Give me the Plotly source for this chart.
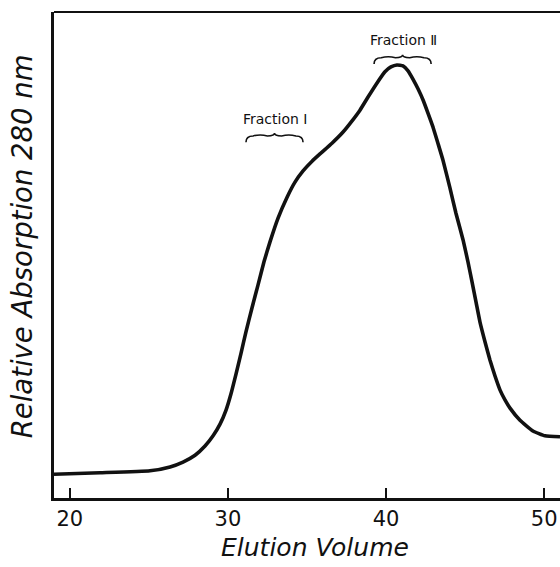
import plotly.graph_objects as go

# Elution profile
elution_volume = [19.0, 21.91, 25.07, 26.34, 27.16, 27.92, 28.55, 29.06, 29.50, 29.88,
                  30.19, 30.51, 30.83, 31.14, 31.52, 31.90, 32.28, 32.66, 33.17, 33.74,
                  34.24, 34.75, 35.32, 35.82, 36.58, 37.28, 37.85, 38.35, 38.86, 39.43,
                  39.93, 40.31, 40.69, 41.07, 41.39, 41.70, 42.02, 42.34, 42.65, 42.97,
                  43.28, 43.60, 44.04, 44.42, 44.87, 45.18, 45.44, 45.69, 45.94, 46.26,
                  46.57, 46.89, 47.21, 47.52, 47.84, 48.47, 49.29, 50.05, 51.0]
absorption = [0.049, 0.052, 0.056, 0.064, 0.074, 0.088, 0.107, 0.128, 0.152, 0.181,
              0.214, 0.255, 0.298, 0.342, 0.391, 0.438, 0.486, 0.527, 0.576, 0.619,
              0.650, 0.673, 0.693, 0.708, 0.730, 0.753, 0.776, 0.798, 0.825, 0.854,
              0.877, 0.887, 0.891, 0.889, 0.879, 0.862, 0.842, 0.819, 0.792, 0.763,
              0.730, 0.695, 0.638, 0.586, 0.531, 0.486, 0.444, 0.403, 0.362, 0.321,
              0.284, 0.251, 0.222, 0.202, 0.185, 0.160, 0.138, 0.128, 0.126]

tick_values = [20, 30, 40, 50]
tick_labels = ["20", "30", "40", "50"]

fraction_labels = ["Fraction \u2160", "Fraction \u2161"]
fraction_ranges = [(31.14, 34.75), (39.24, 42.85)]
fraction_brace_y = [0.745, 0.906]
fraction_label_y = [0.780, 0.942]

fig = go.Figure()
fig.add_trace(go.Scatter(x=elution_volume, y=absorption, mode="lines",
                         line=dict(color="#111111", width=3.6, shape="spline", smoothing=0.4),
                         hoverinfo="skip", showlegend=False))

shapes = []
annotations = []
for (x0, x1), yb, ly, lab in zip(fraction_ranges, fraction_brace_y, fraction_label_y, fraction_labels):
    xm = (x0 + x1) / 2
    d = 0.45
    yend = yb - 0.013
    ytip = yb + 0.006
    path = (f"M {x0},{yend} Q {x0},{yb} {x0+d},{yb} "
            f"Q {(x0+xm)/2},{yb+0.004} {xm-d},{yb} Q {xm},{yb} {xm},{ytip} "
            f"Q {xm},{yb} {xm+d},{yb} Q {(xm+x1)/2},{yb+0.004} {x1-d},{yb} "
            f"Q {x1},{yb} {x1},{yend}")
    shapes.append(dict(type="path", xref="x", yref="y", path=path,
                       line=dict(color="#111111", width=1.6)))
    annotations.append(dict(x=xm + 0.05, y=ly, xref="x", yref="y", text=lab, showarrow=False,
                            font=dict(family="DejaVu Sans", size=14, color="#111111")))

# top frame line
shapes.append(dict(type="line", xref="paper", yref="paper", x0=0, x1=1, y0=1, y1=1,
                   line=dict(color="#111111", width=2)))

annotations.append(dict(text="Elution Volume", xref="paper", yref="paper", x=0.515, y=-0.101,
                        showarrow=False, xanchor="center", yanchor="middle",
                        font=dict(family="DejaVu Sans", size=25, color="#111111", style="italic")))
annotations.append(dict(text="Relative Absorption 280 nm", xref="paper", yref="paper",
                        x=-0.063, y=0.518, textangle=-90, showarrow=False,
                        xanchor="center", yanchor="middle",
                        font=dict(family="DejaVu Sans", size=27.5, color="#111111", style="italic")))

fig.update_layout(
    width=560, height=567,
    margin=dict(l=54, r=0, t=12, b=69),
    paper_bgcolor="white", plot_bgcolor="white",
    shapes=shapes, annotations=annotations,
    xaxis=dict(range=[19, 51], tickvals=tick_values, ticktext=tick_labels,
               ticks="inside", ticklen=10, tickwidth=2, tickcolor="#111111",
               showline=True, linecolor="#111111", linewidth=2.5,
               showgrid=False, zeroline=False,
               tickfont=dict(family="DejaVu Sans", size=21, color="#111111")),
    yaxis=dict(range=[0, 1], showticklabels=False, ticks="",
               showline=True, linecolor="#111111", linewidth=2.5,
               showgrid=False, zeroline=False),
)

fig.write_html("out.html")
